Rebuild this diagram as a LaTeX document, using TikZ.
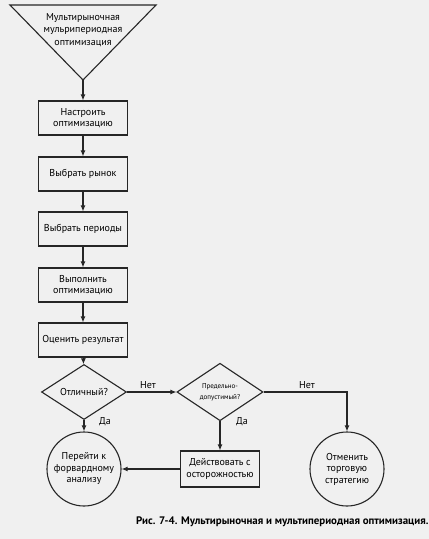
\documentclass[tikz,border=0pt]{standalone}
\usepackage{fontspec}
\setmainfont{PT Sans}
\usetikzlibrary{shapes.geometric,arrows.meta}
\begin{document}
\begin{tikzpicture}[x=1pt,y=-1pt,
  line/.style={draw=black!85, line width=1.1pt},
  arr/.style={line, -{Latex[length=6pt,width=5pt]}},
  txt/.style={font=\fontsize{10}{11.5}\selectfont},
  box/.style={line, txt, rectangle, minimum width=89pt, minimum height=34pt, align=center, inner sep=1pt},
  dia/.style={line, txt, diamond, inner sep=0pt, align=center},
  circ/.style={line, txt, circle, minimum size=74pt, align=center, inner sep=0pt},
  lbl/.style={txt}
]
\fill[black!6] (0,0) rectangle (429,539);
\useasboundingbox (0,0) rectangle (429,539);
% start triangle
\coordinate (tl) at (10,5);
\coordinate (tr) at (156,5);
\coordinate (tapex) at (83,80);
\draw[line, line join=miter] (tl) -- (tr) -- (tapex) -- cycle;
\node[txt, align=center, font=\fontsize{10}{12.5}\selectfont] (start) at (83,30) {Мультирыночная\\мульрипериодная\\оптимизация};
% boxes
\node[box] (b1) at (83,118) {Настроить\\оптимизацию};
\node[box] (b2) at (83,174) {Выбрать рынок};
\node[box] (b3) at (83,229) {Выбрать периоды};
\node[box] (b4) at (83,285) {Выполнить\\оптимизацию};
\node[box] (b5) at (83,340) {Оценить результат};
% decisions
\node[dia, minimum width=85pt, minimum height=41pt] (d1) at (84,392) {Отличный?};
\node[dia, minimum width=86pt, minimum height=42pt, font=\fontsize{7}{11}\selectfont] (d2) at (220,392) {Предельно-\\допустимый?};
% outcomes
\node[circ] (c1) at (84,469) {Перейти к\\форвардному\\анализу};
\node[box, minimum width=79pt, minimum height=36pt] (b6) at (220,469) {Действовать с\\осторожностью};
\node[circ] (c2) at (347,469) {Отменить\\торговую\\стратегию};
% connectors
\draw[arr] (tapex) -- (b1);
\draw[arr] (b1) -- (b2);
\draw[arr] (b2) -- (b3);
\draw[arr] (b3) -- (b4);
\draw[arr] (b4) -- (b5);
\draw[arr] (b5) -- (d1);
\draw[arr] (d1.east) -- (d2.west);
\draw[arr] (d2.east) -| (c2.north);
\draw[arr] (d1.south) -- (c1.north);
\draw[arr] (d2.south) -- (b6.north);
\draw[arr] (b6.west) -- (c1.east);
% labels
\node[lbl] (l1) at (148,385) {Нет};
\node[lbl] (l2) at (307,385) {Нет};
\node[lbl] (l3) at (105,422) {Да};
\node[lbl] (l4) at (242,422) {Да};
% caption
\node[anchor=west, font=\fontsize{10.9}{13}\selectfont\bfseries, inner sep=0pt] (cap) at (136,522) {Рис. 7-4. Мультирыночная и мультипериодная оптимизация.};
\end{tikzpicture}
\end{document}
